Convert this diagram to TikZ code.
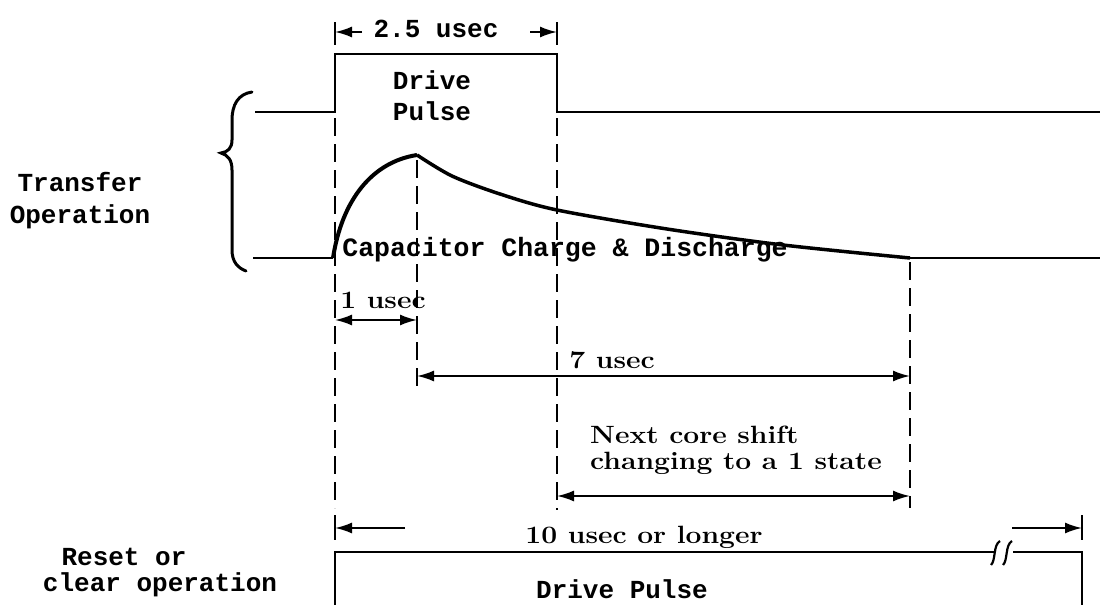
\documentclass[tikz,border=0pt]{standalone}
\usepackage{fontspec}
\usepackage{graphicx}
\usetikzlibrary{arrows.meta}
\newfontfamily\twfont{Liberation Mono}
\newcommand{\wsc}[1]{\scalebox{1.13}[1]{#1}}
\begin{document}
\begin{tikzpicture}[x=1pt,y=-1pt,
  wave/.style={line width=2.5pt},
  dim/.style={line width=1.9pt},
  dashv/.style={line width=1.6pt, dash pattern=on 18pt off 8pt},
  tipone/.style={-{Latex[length=17pt,width=11pt]}},
  tiptwo/.style={{Latex[length=17pt,width=11pt]}-{Latex[length=17pt,width=11pt]}},
  tw/.style={font=\twfont\bfseries\fontsize{26}{28}\selectfont, inner sep=0pt, anchor=base},
  lb/.style={font=\bfseries\fontsize{25}{27}\selectfont, inner sep=0pt, anchor=base}]
\useasboundingbox (0,0) rectangle (1112,605);
% top waveform
\coordinate (t0) at (255,112); \coordinate (t1) at (335,112);
\coordinate (t2) at (335,54);  \coordinate (t3) at (557,54);
\coordinate (t4) at (557,112); \coordinate (t5) at (1100,112);
\draw[wave] (t0) -- (t1) -- (t2) -- (t3) -- (t4) -- (t5);
% lower waveform
\coordinate (b0) at (253,258); \coordinate (b1) at (333,258);
\coordinate (pk) at (417,155); \coordinate (b2) at (910,258);
\coordinate (b3) at (1100,258);
\draw[wave] (b0) -- (b1);
\draw[line width=4pt] (b1) .. controls (342,200) and (372,162) .. (pk);
\draw[line width=3.5pt] plot[smooth] coordinates {(417,155) (452,176) (500,194) (557,210) (667,229) (783,245) (910,258)};
\draw[wave] (b2) -- (b3);
% brace
\draw[line width=3pt, line cap=round] (252,92) .. controls (238,94) and (232,105) .. (232,120) -- (232,140)
  .. controls (232,148) and (228,152) .. (221,153) .. controls (228,155) and (232,160) .. (232,170)
  -- (232,250) .. controls (232,262) and (238,268) .. (246,271);
% dashed verticals
\coordinate (d1a) at (335,118); \coordinate (d1b) at (335,508);
\coordinate (d2a) at (417,160); \coordinate (d2b) at (417,388);
\coordinate (d3a) at (557,118); \coordinate (d3b) at (557,510);
\coordinate (d4a) at (910,262); \coordinate (d4b) at (910,508);
\draw[dashv] (d1a) -- (d1b);
\draw[dashv] (d2a) -- (d2b);
\draw[dashv] (d3a) -- (d3b);
\draw[dashv] (d4a) -- (d4b);
% 2.5 usec
\draw[dim] (335,22) -- (335,45);
\draw[dim] (557,22) -- (557,45);
\draw[dim,tipone] (362,32) -- (335,32);
\draw[dim,tipone] (530,32) -- (557,32);
\node[tw] (l25) at (436,37) {2.5 usec};
\node[tw] (dr1) at (432,89) {Drive};
\node[tw] (pu1) at (432,120) {Pulse};
% side labels
\node[tw] (tr) at (80,191) {Transfer};
\node[tw] (op) at (80,223) {Operation};
\node[tw] (rs) at (124,565) {Reset or};
\node[tw] (cl) at (160,591) {clear operation};
\node[tw, font=\twfont\bfseries\fontsize{26.5}{28}\selectfont] (cap) at (565,256) {Capacitor Charge \& Discharge};
% 1 usec
\draw[dim,tiptwo] (335,320) -- (417,320);
\node[lb] (l1) at (383,308) {\wsc{1 usec}};
% 7 usec
\draw[dim,tiptwo] (417,376) -- (910,376);
\node[lb] (l7) at (612,368) {\wsc{7 usec}};
% next core shift
\node[lb, anchor=base west] (n1) at (590,443) {\wsc{Next core shift}};
\node[lb, anchor=base west] (n2) at (590,469) {\wsc{changing to a 1 state}};
\draw[dim,tiptwo] (557,496) -- (910,496);
% 10 usec
\draw[dim] (335,515) -- (335,540);
\draw[dim] (1082,515) -- (1082,540);
\draw[dim,tipone] (405,528) -- (335,528);
\draw[dim,tipone] (1012,528) -- (1082,528);
\node[lb] (l10) at (644,543) {\wsc{10 usec or longer}};
% bottom pulse
\draw[wave] (335,606) -- (335,552) -- (994,552);
\draw[wave] (1013,552) -- (1082,552) -- (1082,606);
\draw[line width=2.2pt] (991,565) .. controls (996,560) and (993,545) .. (1000,541);
\draw[line width=2.2pt] (1003,565) .. controls (1008,560) and (1005,545) .. (1012,541);
\node[tw] (dr2) at (622,598) {Drive Pulse};
\end{tikzpicture}
\end{document}
